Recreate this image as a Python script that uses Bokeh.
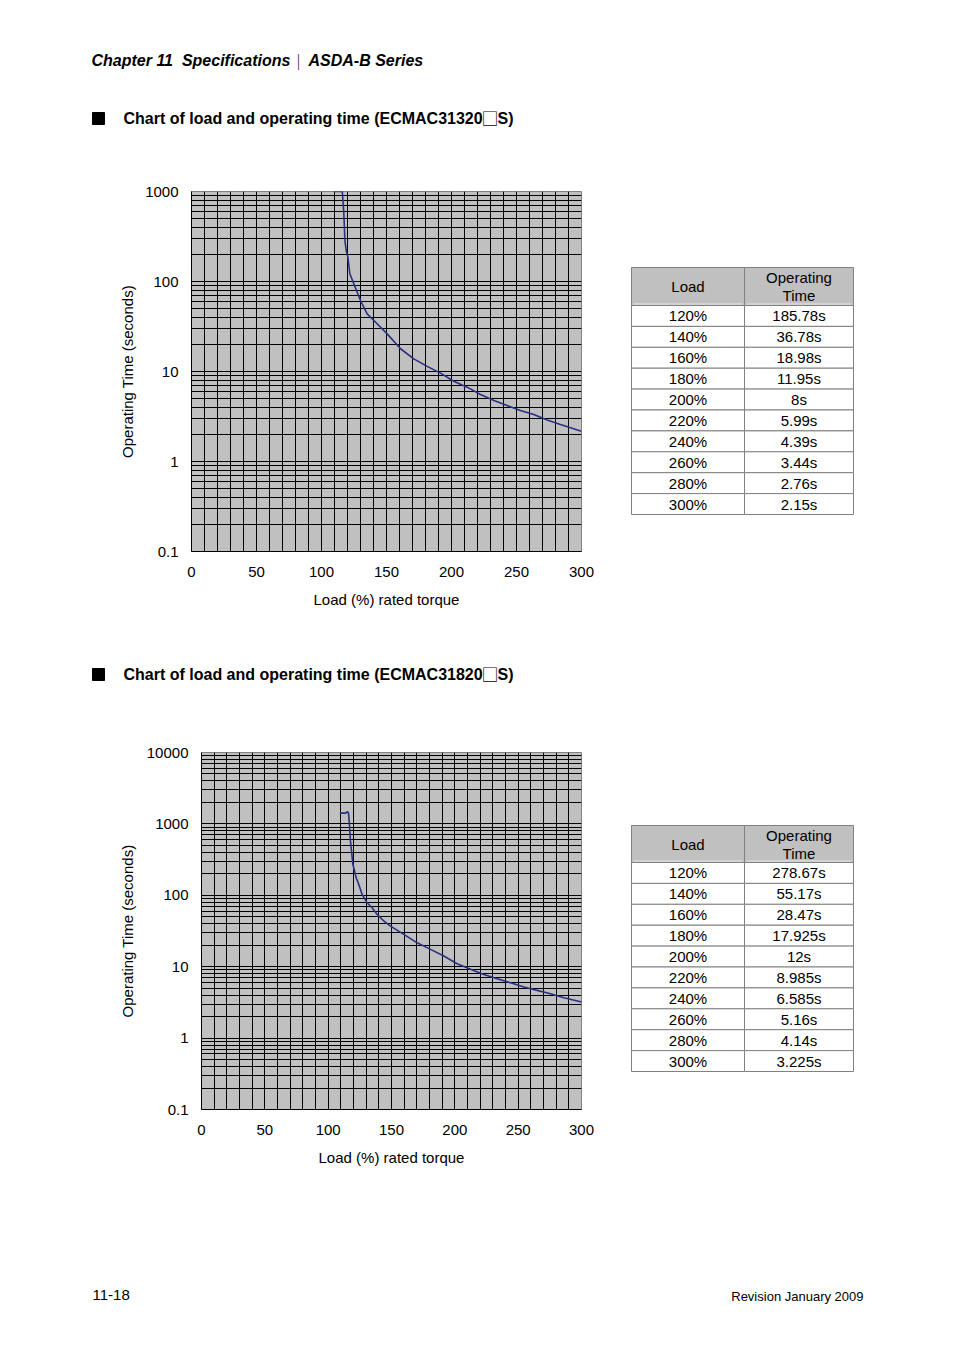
from bokeh.plotting import figure
from bokeh.layouts import column, row
from bokeh.models import Range1d, FixedTicker, CustomJSTickFormatter
from bokeh.core.properties import value
from bokeh.embed import file_html
from bokeh.resources import INLINE

FONT = "Liberation Sans"
FONT_CJK = "Noto Sans CJK SC"

# ---------------- data ----------------
X_TICKS = [0, 50, 100, 150, 200, 250, 300]
X_GRID = [10, 20, 30, 40, 50, 60, 70, 80, 90, 100, 110, 120, 130, 140, 150,
          160, 170, 180, 190, 200, 210, 220, 230, 240, 250, 260, 270, 280, 290]
Y_DECADES_1 = [0.1, 1, 10, 100, 1000]
Y_DECADES_2 = [0.1, 1, 10, 100, 1000, 10000]

CURVE1_LOAD = [109.5, 116.0, 117.2, 118.0, 119.0, 120.3, 121.8, 124.9, 130.0, 135.1,
               140.3, 150.5, 160.8, 171.0, 181.3, 191.5, 201.8, 212.0, 222.3, 232.6,
               242.8, 253.0, 263.3, 273.6, 283.8, 294.0, 299.8]
CURVE1_TIME = [1000, 1000, 565, 285, 221, 186, 122, 94, 61.5, 43.7,
               36.9, 26.2, 17.9, 13.8, 11.4, 9.6, 7.8, 6.7, 5.55, 4.76,
               4.19, 3.69, 3.33, 2.9, 2.58, 2.31, 2.17]

CURVE2_LOAD = [109.2, 113.9, 115.0, 116.0, 116.6, 117.6, 118.7, 119.4, 122.1, 124.2,
               126.8, 130.8, 134.7, 138.7, 143.9, 149.2, 159.7, 170.3, 180.8, 191.3,
               201.8, 212.4, 222.9, 233.4, 243.9, 254.5, 265.0, 275.5, 286.0, 299.2, 300.0]
CURVE2_TIME = [1416, 1416, 1478, 1440, 1096, 574, 374, 279, 176, 142,
               103, 78.5, 66.8, 54, 43.7, 37, 28.3, 21.6, 17.5, 14.1,
               11.0, 9.2, 7.8, 6.77, 5.95, 5.18, 4.66, 4.17, 3.67, 3.23, 3.2]

TABLE_LOAD = [120, 140, 160, 180, 200, 220, 240, 260, 280, 300]
TABLE1_TIME = [185.78, 36.78, 18.98, 11.95, 8, 5.99, 4.39, 3.44, 2.76, 2.15]
TABLE2_TIME = [278.67, 55.17, 28.47, 17.925, 12, 8.985, 6.585, 5.16, 4.14, 3.225]

HEADER_LEFT = "Chapter 11\u00a0\u00a0Specifications"
HEADER_SEP = "\uff5c"
HEADER_RIGHT = "ASDA-B Series"
TITLE_PREFIX = "Chart of load and operating time ("
MODEL1 = ("ECMAC31320", "S)")
MODEL2 = ("ECMAC31820", "S)")
BOX = "\u25a1"
Y_LABEL = "Operating Time (seconds)"
X_LABEL = "Load (%) rated torque"
PAGE_NO = "11-18"
REVISION = "Revision January 2009"


def page_fig(x0, x1, y0, y1, bt=0, bb=0):
    # frame covers page y y0..y1; figure adds borders bt / bb around it
    p = figure(width=x1 - x0, height=(y1 - y0) + bt + bb, x_range=Range1d(x0, x1),
               y_range=Range1d(y1, y0), output_backend="svg", toolbar_location=None,
               x_axis_location=None, y_axis_location=None, min_border=0,
               min_border_top=bt, min_border_bottom=bb)
    p.grid.visible = False
    p.outline_line_color = None
    p.background_fill_color = "white"
    p.border_fill_color = "white"
    return p


def txt(p, x, y, s, size="15px", style="normal", align="left", font=FONT):
    p.text(x=[x], y=[y], text=[s], text_font=value(font), text_font_size=value(size),
           text_font_style=style, text_align=align, text_baseline="middle",
           text_color="black")


def title(p, y, model):
    p.scatter(x=[98], y=[y], marker="square", size=12, color="black")
    txt(p, 123, y, TITLE_PREFIX + model[0], size="16px", style="bold")
    txt(p, 481, y - 1.5, BOX, size="17px", font=FONT_CJK)
    txt(p, 497, y, model[1], size="16px", style="bold")


def make_chart(loads, times, decades, bl, bt, bb, ylab_standoff):
    p = figure(width=bl + (581 - bl) + 29, height=470, x_range=Range1d(0, 300),
               y_range=Range1d(decades[0], decades[-1]), y_axis_type="log",
               output_backend="svg", toolbar_location=None,
               min_border_left=bl, min_border_right=29, min_border_top=bt,
               min_border_bottom=bb)
    p.background_fill_color = "#c0c0c0"
    p.border_fill_color = "white"
    p.outline_line_color = "#808080"
    minor = [m * d for d in decades[:-1] for m in range(2, 10)]
    p.yaxis.ticker = FixedTicker(ticks=decades, minor_ticks=minor)
    p.ygrid.ticker = FixedTicker(ticks=decades[1:-1], minor_ticks=minor)
    p.yaxis.formatter = CustomJSTickFormatter(code="return String(tick)")
    p.xaxis.ticker = FixedTicker(ticks=X_TICKS)
    p.xgrid.ticker = FixedTicker(ticks=X_GRID)
    for g in (p.xgrid, p.ygrid):
        g.grid_line_color = "black"
        g.grid_line_width = 1
    p.ygrid.minor_grid_line_color = "black"
    p.ygrid.minor_grid_line_width = 1
    for ax in p.axis:
        ax.major_tick_out = 0
        ax.major_tick_in = 0
        ax.minor_tick_out = 0
        ax.minor_tick_in = 0
        ax.axis_line_color = "black"
        ax.axis_line_width = 1
        ax.major_label_text_font = FONT
        ax.major_label_text_font_size = "15px"
        ax.major_label_text_color = "black"
        ax.axis_label_text_font = FONT
        ax.axis_label_text_font_size = "15px"
        ax.axis_label_text_font_style = "normal"
        ax.axis_label_text_color = "black"
    p.xaxis.axis_label = X_LABEL
    p.yaxis.axis_label = Y_LABEL
    p.xaxis.major_label_standoff = 15
    p.yaxis.major_label_standoff = 13
    p.xaxis.axis_label_standoff = 11
    p.yaxis.axis_label_standoff = ylab_standoff
    p.line(loads, times, line_color="#2a3080", line_width=1.6)
    return p


def make_table(fy0, fy1, bt, bb, top, header_h, bottom, times):
    p = page_fig(610, 946, fy0, fy1, bt, bb)
    left, mid, right = 631, 744, 853
    n = len(TABLE_LOAD)
    hb = top + header_h
    row_h = (bottom - hb) / n
    p.quad(left=[left, mid], right=[mid, right], top=[top, top], bottom=[hb, hb],
           fill_color="#c0c0c0", line_color="#808080", line_width=1)
    p.segment(x0=[left + 2, mid + 2], y0=[hb - 1.5, hb - 1.5], x1=[mid - 2, right - 2],
              y1=[hb - 1.5, hb - 1.5], line_color="#e6e6e6", line_width=1)
    tops = [hb + i * row_h for i in range(n)]
    bots = [t + row_h for t in tops]
    p.quad(left=[left] * n + [mid] * n, right=[mid] * n + [right] * n,
           top=tops + tops, bottom=bots + bots, fill_color="white",
           line_color="#808080", line_width=1)
    cl, cr = (left + mid) / 2, (mid + right) / 2
    txt(p, cl, top + header_h / 2, "Load", align="center")
    txt(p, cr, top + header_h / 2 - 9, "Operating", align="center")
    txt(p, cr, top + header_h / 2 + 9, "Time", align="center")
    centers = [t + row_h / 2 for t in tops]
    p.text(x=[cl] * n, y=centers, text=[f"{v}%" for v in TABLE_LOAD],
           text_font=value(FONT), text_font_size=value("15px"), text_align="center",
           text_baseline="middle", text_color="black")
    p.text(x=[cr] * n, y=centers, text=[f"{v:g}s" for v in times],
           text_font=value(FONT), text_font_size=value("15px"), text_align="center",
           text_baseline="middle", text_color="black")
    return p


# header block (page y 0..160)
head = page_fig(0, 946, 0, 160)
txt(head, 91, 60, HEADER_LEFT, size="16px", style="bold italic")
txt(head, 298, 60, HEADER_SEP, size="16px", align="center", font=FONT_CJK)
txt(head, 308, 60, HEADER_RIGHT, size="16px", style="bold italic")
title(head, 118, MODEL1)

# chart block 1 (page y 160..630, frame 191..551)
chart1 = make_chart(CURVE1_LOAD, CURVE1_TIME, Y_DECADES_1, 191, 31, 79, 6)
table1 = make_table(191, 551, 31, 79, 267, 38, 514, TABLE1_TIME)

mid = page_fig(0, 946, 630, 720)
title(mid, 674, MODEL2)

# chart block 2 (page y 720..1190, frame 752..1109)
chart2 = make_chart(CURVE2_LOAD, CURVE2_TIME, Y_DECADES_2, 201, 32, 81, 8)
table2 = make_table(752, 1109, 32, 81, 825, 37, 1071, TABLE2_TIME)

foot = page_fig(0, 946, 1190, 1343)
txt(foot, 92, 1294, PAGE_NO, size="15px")
txt(foot, 863, 1296, REVISION, size="13px", align="right")

layout = column(head, row(chart1, table1), mid, row(chart2, table2), foot)

open("out.html", "w").write(file_html(layout, INLINE))
